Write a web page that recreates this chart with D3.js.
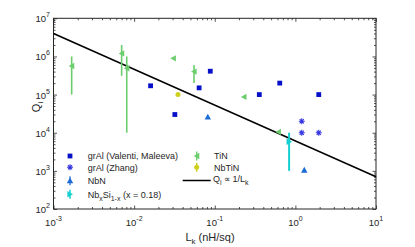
<!DOCTYPE html>
<html>
<head>
<meta charset="utf-8">
<script src="https://cdn.jsdelivr.net/npm/d3@7"></script>
<style>
  body { margin: 0; background: #fff; }
  text { font-family: "Liberation Sans", Arial, sans-serif; fill: #262626; }
</style>
</head>
<body>
<svg id="chart" width="415" height="247"></svg>
<script>
// values (Lk in nH/sq, Qi)
const grAlValenti = [[0.016, 1.7e5], [0.032, 3.0e4], [0.064, 1.5e5], [0.088, 4.1e5],
                     [0.357, 1.0e5], [0.64, 2.0e5], [1.95, 1.0e5]];
const grAlZhang = [[1.2, 2.0e4], [1.2, 1.0e4], [1.95, 1.0e4]];
const nbn = [[0.082, 2.6e4], [1.29, 1.05e3]];
const nbSi = [{ lk: 0.836, q: 5.8e3, lo: 1.0e3, hi: 1.0e4 }];
const tin = [
  { lk: 0.00168, q: 5.6e5, lo: 1.0e5, hi: 1.0e6 },
  { lk: 0.0070, q: 1.2e6, lo: 3.1e5, hi: 2.0e6 },
  { lk: 0.0081, q: 4.9e5, lo: 1.0e4, hi: 1.0e6 },
  { lk: 0.0306, q: 8.9e5 },
  { lk: 0.0553, q: 4.0e5, lo: 2.0e5, hi: 6.0e5 },
  { lk: 0.23, q: 8.7e4 },
  { lk: 0.615, q: 1.05e4 }
];
const nbtin = [[0.035, 1.0e5]];
const fitLine = [[1e-3, 4.0e6], [10, 7.0e2]];
const xMajor = [1e-3, 1e-2, 1e-1, 1, 10];
const xExp = ['-3', '-2', '-1', '0', '1'];
const yMajor = [1e2, 1e3, 1e4, 1e5, 1e6, 1e7];
const yExp = ['2', '3', '4', '5', '6', '7'];

const C = {
  sq: '#0710c9', star: '#3535e0', nbn: '#1c6ad4',
  cyan: '#17cfd0', green: '#6ccd6c', yellow: '#cfcf1e'
};

const svg = d3.select('#chart');
const L = 53.5, R = 376, T = 18.3, B = 209;

const x = d3.scaleLog().domain([1e-3, 10]).range([L, R]);
const y = d3.scaleLog().domain([1e2, 1e7]).range([B, T]);

const isMajor = v => Math.abs(Math.log10(v) - Math.round(Math.log10(v))) < 1e-9;
const xMinor = x.ticks().filter(v => !isMajor(v));
const yMinor = y.ticks().filter(v => !isMajor(v));

function ticks(axis, tr, vals, len) {
  const g = svg.append('g').attr('transform', tr)
    .call(axis.tickValues(vals).tickFormat('').tickSizeInner(-len).tickSizeOuter(0));
  g.select('.domain').remove();
  g.selectAll('line').attr('stroke', '#262626').attr('stroke-width', 0.8);
}
[[xMajor, 3.5], [xMinor, 2]].forEach(([v, l]) => {
  ticks(d3.axisBottom(x), `translate(0,${B})`, v, l);
  ticks(d3.axisTop(x), `translate(0,${T})`, v, l);
});
[[yMajor, 3.5], [yMinor, 2]].forEach(([v, l]) => {
  ticks(d3.axisLeft(y), `translate(${L},0)`, v, l);
  ticks(d3.axisRight(y), `translate(${R},0)`, v, l);
});

svg.append('rect')
  .attr('x', L).attr('y', T).attr('width', R - L).attr('height', B - T)
  .attr('fill', 'none').attr('stroke', '#262626').attr('stroke-width', 1);

// tick labels
xMajor.forEach((v, i) => {
  const t = svg.append('text').attr('x', x(v)).attr('y', 226)
    .attr('text-anchor', 'middle').attr('font-size', '9.5px');
  t.append('tspan').text('10');
  t.append('tspan').attr('dy', -5).attr('font-size', '7px').text(xExp[i]);
});
yMajor.forEach((v, i) => {
  const t = svg.append('text').attr('x', 50).attr('y', y(v) + 4)
    .attr('text-anchor', 'end').attr('font-size', '9.5px');
  t.append('tspan').text('10');
  t.append('tspan').attr('dy', -5).attr('font-size', '7px').text(yExp[i]);
});

// axis labels
const xl = svg.append('text').attr('x', 210).attr('y', 241)
  .attr('text-anchor', 'middle').attr('font-size', '11px');
xl.append('tspan').text('L');
xl.append('tspan').attr('dy', 3).attr('font-size', '8px').text('k');
xl.append('tspan').attr('dy', -3).text(' (nH/sq)');

const yl = svg.append('text').attr('transform', 'translate(39.5,107) rotate(-90)')
  .attr('text-anchor', 'middle').attr('font-size', '11px');
yl.append('tspan').text('Q');
yl.append('tspan').attr('dy', 3).attr('font-size', '8px').text('i');

// fit line
svg.append('path')
  .attr('d', d3.line().x(d => x(d[0])).y(d => y(d[1]))(fitLine))
  .attr('fill', 'none').attr('stroke', '#000').attr('stroke-width', 1.5);

// marker shapes
const tri = {
  left: 'M-3,0L2.6,-3.2L2.6,3.2Z',
  right: 'M3,0L-2.6,-3.2L-2.6,3.2Z',
  up: 'M0,-3.2L3.2,2.6L-3.2,2.6Z'
};
const starPath = 'M-3,0H3M0,-3V3M-2.1,-2.1L2.1,2.1M-2.1,2.1L2.1,-2.1';

function errBars(data, color, w) {
  svg.append('g').selectAll('line').data(data.filter(d => d.lo)).join('line')
    .attr('x1', d => x(d.lk)).attr('x2', d => x(d.lk))
    .attr('y1', d => y(d.lo)).attr('y2', d => y(d.hi))
    .attr('stroke', color).attr('stroke-width', w);
}

errBars(tin, C.green, 1.6);
errBars(nbSi, C.cyan, 2);

svg.append('g').selectAll('path').data(tin).join('path')
  .attr('transform', d => `translate(${x(d.lk)},${y(d.q)})`)
  .attr('d', tri.left).attr('fill', C.green);

svg.append('g').selectAll('path').data(nbSi).join('path')
  .attr('transform', d => `translate(${x(d.lk)},${y(d.q)})`)
  .attr('d', tri.right).attr('fill', C.cyan);

svg.append('g').selectAll('rect').data(grAlValenti).join('rect')
  .attr('x', d => x(d[0]) - 2.4).attr('y', d => y(d[1]) - 2.4)
  .attr('width', 4.8).attr('height', 4.8).attr('fill', C.sq);

svg.append('g').selectAll('path').data(grAlZhang).join('path')
  .attr('transform', d => `translate(${x(d[0])},${y(d[1])})`)
  .attr('d', starPath).attr('fill', 'none').attr('stroke', C.star).attr('stroke-width', 1.1);

svg.append('g').selectAll('path').data(nbn).join('path')
  .attr('transform', d => `translate(${x(d[0])},${y(d[1])})`)
  .attr('d', tri.up).attr('fill', C.nbn);

svg.append('g').selectAll('circle').data(nbtin).join('circle')
  .attr('cx', d => x(d[0])).attr('cy', d => y(d[1]))
  .attr('r', 2.5).attr('fill', C.yellow);

// legend
const lg = svg.append('g');
function legText(xp, yp, parts) {
  const t = lg.append('text').attr('x', xp).attr('y', yp + 3.2).attr('font-size', '9px');
  parts.forEach(p => {
    if (typeof p === 'string') t.append('tspan').text(p);
    else t.append('tspan').attr('dy', p.dy).attr('font-size', p.s || null).text(p.t);
  });
}
function legBar(xp, yp, color, w) {
  lg.append('line').attr('x1', xp).attr('x2', xp).attr('y1', yp - 4.5).attr('y2', yp + 4.5)
    .attr('stroke', color).attr('stroke-width', w);
}
const rows = [156, 167.3, 180.7, 194.3];
lg.append('rect').attr('x', 70 - 2.4).attr('y', rows[0] - 2.4).attr('width', 4.8).attr('height', 4.8).attr('fill', C.sq);
legText(87.7, rows[0], ['grAl (Valenti, Maleeva)']);
lg.append('path').attr('transform', `translate(70,${rows[1]})`).attr('d', starPath)
  .attr('fill', 'none').attr('stroke', C.star).attr('stroke-width', 1.1);
legText(87.7, rows[1], ['grAl (Zhang)']);
legBar(70, rows[2], C.nbn, 1.2);
lg.append('path').attr('transform', `translate(70,${rows[2]})`).attr('d', tri.up).attr('fill', C.nbn);
legText(87.7, rows[2], ['NbN']);
legBar(70, rows[3], C.cyan, 1.5);
lg.append('path').attr('transform', `translate(70,${rows[3]})`).attr('d', tri.right).attr('fill', C.cyan);
legText(87.7, rows[3], ['Nb', { t: 'x', dy: 3, s: '7px' }, { t: 'Si', dy: -3 },
  { t: '1-x', dy: 3, s: '7px' }, { t: ' (x = 0.18)', dy: -3 }]);

legBar(196.7, rows[0], C.green, 1.5);
lg.append('path').attr('transform', `translate(196.7,${rows[0]})`).attr('d', tri.left).attr('fill', C.green);
legText(214, rows[0], ['TiN']);
legBar(196.7, rows[1], C.yellow, 1.5);
lg.append('circle').attr('cx', 196.7).attr('cy', rows[1]).attr('r', 2.5).attr('fill', C.yellow);
legText(214, rows[1], ['NbTiN']);
lg.append('line').attr('x1', 182.7).attr('x2', 210.7).attr('y1', 180.5).attr('y2', 180.5)
  .attr('stroke', '#000').attr('stroke-width', 1.5);
legText(213, 178.5, ['Q', { t: 'i', dy: 3, s: '7px' }, { t: ' \u221d 1/L', dy: -3 }, { t: 'k', dy: 3, s: '7px' }]);
</script>
</body>
</html>
